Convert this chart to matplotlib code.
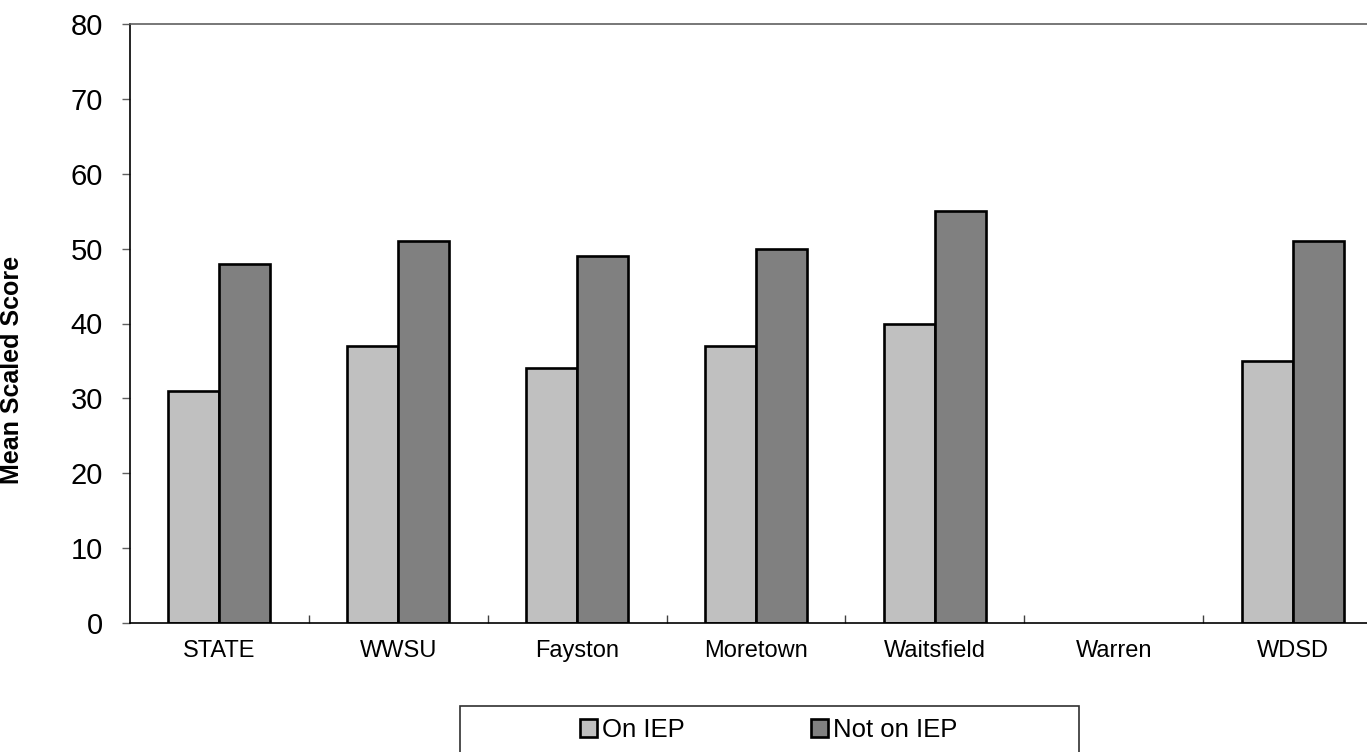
import matplotlib.pyplot as plt
import matplotlib.patches as mpatches
import numpy as np

plt.rcParams['font.family'] = ['Liberation Sans', 'DejaVu Sans']

schools = ['STATE', 'WWSU', 'Fayston', 'Moretown', 'Waitsfield', 'Warren', 'WDSD']
on_iep = [31, 37, 34, 37, 40, np.nan, 35]
not_on_iep = [48, 51, 49, 50, 55, np.nan, 51]

fig = plt.figure(figsize=(13.67, 7.52), dpi=100)
ax = fig.add_axes([130 / 1367, 1 - 623 / 752, 1252 / 1367, 599 / 752])

x = np.arange(len(schools))
w = 0.285
ax.bar(x - w / 2, on_iep, w, color='#C0C0C0', edgecolor='black', linewidth=1.9, label='On IEP')
ax.bar(x + w / 2, not_on_iep, w, color='#808080', edgecolor='black', linewidth=1.9, label='Not on IEP')

ax.set_xlim(-0.5, len(schools) - 0.5)
ax.set_ylim(0, 80)
ax.set_yticks(range(0, 81, 10))
ax.set_xticks(x)
ax.set_xticklabels(schools, fontsize=17)
ax.set_xticks(np.arange(0.5, len(schools) - 0.5, 1), minor=True)
ax.tick_params(axis='x', which='major', length=0, pad=12)
ax.tick_params(axis='x', which='minor', direction='in', length=6, width=1, color='#404040')
ax.tick_params(axis='y', direction='out', length=6, width=1, labelsize=21, pad=13.5, color='#606060')

for s in ['left', 'bottom']:
    ax.spines[s].set_linewidth(1.2)
ax.spines['top'].set_color('#606060')
ax.spines['top'].set_linewidth(1.2)
ax.spines['right'].set_visible(False)

ax.set_ylabel('Mean Scaled Score', fontsize=18, fontweight='bold')
ax.yaxis.set_label_coords(-0.0847, 0.422)

# legend frame
fig.patches.append(mpatches.Rectangle((460 / 1367, -0.02), 619 / 1367, 1 - 706 / 752 + 0.02,
                                      transform=fig.transFigure, facecolor='white',
                                      edgecolor='#303030', linewidth=1.2))
fig.legend(loc='center left', bbox_to_anchor=(580 / 1367, 1 - 730 / 752), ncol=2,
           frameon=False, fontsize=18.5, handlelength=0.66, handleheight=0.66,
           handletextpad=0.2, columnspacing=4.9, borderpad=0, borderaxespad=0)

fig.savefig('out.png', dpi=100)
